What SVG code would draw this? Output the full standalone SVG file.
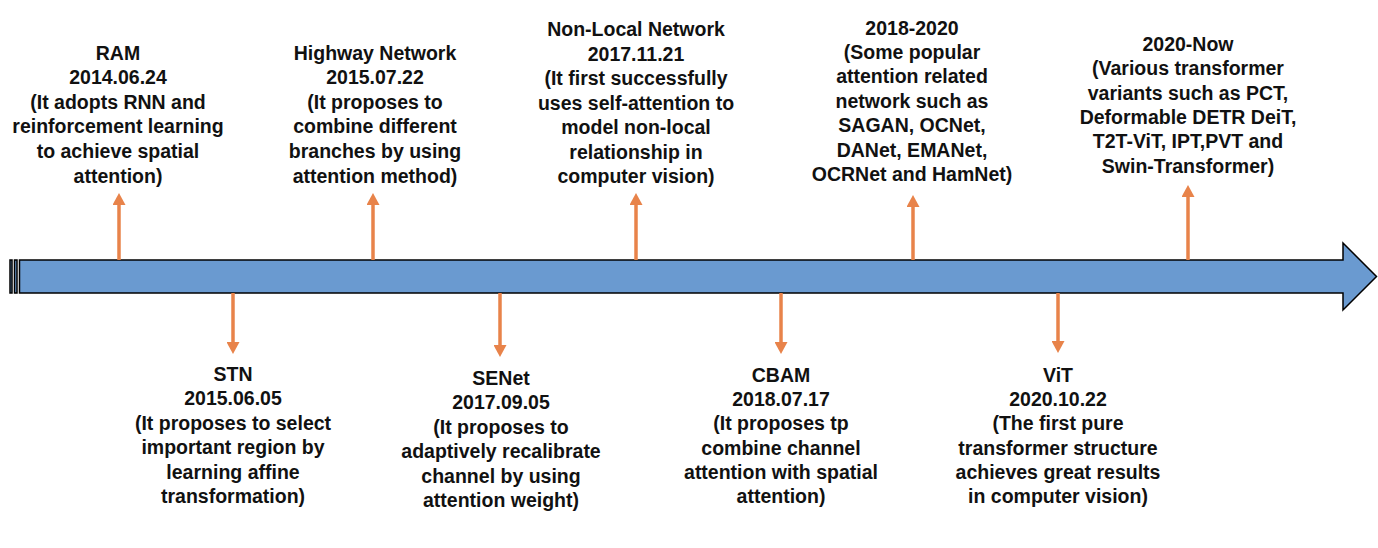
<svg xmlns="http://www.w3.org/2000/svg" width="1378" height="548" viewBox="0 0 1378 548">
<defs>
<style>
.t{font-family:"Liberation Sans",Arial,sans-serif;font-weight:bold;font-size:19.5px;fill:#111;text-anchor:middle}
.c{stroke:#E8834A;stroke-width:3.5;fill:none}
.bar{fill:#6A9AD0;stroke:#000;stroke-width:1.5}
</style>
<marker id="ah" viewBox="0 0 12 13" refX="0" refY="6.5" markerWidth="12" markerHeight="13" markerUnits="userSpaceOnUse" orient="auto">
<path d="M0,0 L12,6.5 L0,13 Z" fill="#E8834A"/>
</marker>
</defs>
<rect width="1378" height="548" fill="#fff"/>
<g id="timeline">
<rect class="bar" x="10" y="260" width="2" height="33"/>
<rect class="bar" x="14.5" y="260" width="2.5" height="33"/>
<path class="bar" d="M19.5,260 L1343,260 L1343,243 L1376.5,276.5 L1343,310 L1343,293 L19.5,293 Z"/>
</g>
<g id="connectors">
<path class="c" d="M119,260 V205" marker-end="url(#ah)"/>
<path class="c" d="M373,260 V205" marker-end="url(#ah)"/>
<path class="c" d="M636,260 V205" marker-end="url(#ah)"/>
<path class="c" d="M913,260 V207" marker-end="url(#ah)"/>
<path class="c" d="M1188,260 V197" marker-end="url(#ah)"/>
<path class="c" d="M233,293 V342" marker-end="url(#ah)"/>
<path class="c" d="M500,293 V345" marker-end="url(#ah)"/>
<path class="c" d="M781,293 V342" marker-end="url(#ah)"/>
<path class="c" d="M1058,293 V341" marker-end="url(#ah)"/>
</g>
<g id="ram">
<text class="t" x="118" y="59.5"><tspan x="118">RAM</tspan><tspan x="118" dy="24.6">2014.06.24</tspan><tspan x="118" dy="24.6">(It adopts RNN and</tspan><tspan x="118" dy="24.6">reinforcement learning</tspan><tspan x="118" dy="24.6">to achieve spatial</tspan><tspan x="118" dy="24.6">attention)</tspan></text>
</g>
<g id="highway">
<text class="t" x="375" y="59.5"><tspan x="375">Highway Network</tspan><tspan x="375" dy="24.6">2015.07.22</tspan><tspan x="375" dy="24.6">(It proposes to</tspan><tspan x="375" dy="24.6">combine different</tspan><tspan x="375" dy="24.6">branches by using</tspan><tspan x="375" dy="24.6">attention method)</tspan></text>
</g>
<g id="nonlocal">
<text class="t" x="636" y="36"><tspan x="636">Non-Local Network</tspan><tspan x="636" dy="24.5">2017.11.21</tspan><tspan x="636" dy="24.5">(It first successfully</tspan><tspan x="636" dy="24.5">uses self-attention to</tspan><tspan x="636" dy="24.5">model non-local</tspan><tspan x="636" dy="24.5">relationship in</tspan><tspan x="636" dy="24.5">computer vision)</tspan></text>
</g>
<g id="y2018">
<text class="t" x="912" y="34.5"><tspan x="912">2018-2020</tspan><tspan x="912" dy="24.4">(Some popular</tspan><tspan x="912" dy="24.4">attention related</tspan><tspan x="912" dy="24.4">network such as</tspan><tspan x="912" dy="24.4">SAGAN, OCNet,</tspan><tspan x="912" dy="24.4">DANet, EMANet,</tspan><tspan x="912" dy="24.4">OCRNet and HamNet)</tspan></text>
</g>
<g id="y2020">
<text class="t" x="1188" y="51"><tspan x="1188">2020-Now</tspan><tspan x="1188" dy="24.3">(Various transformer</tspan><tspan x="1188" dy="24.3">variants such as PCT,</tspan><tspan x="1188" dy="24.3">Deformable DETR DeiT,</tspan><tspan x="1188" dy="24.3">T2T-ViT, IPT,PVT and</tspan><tspan x="1188" dy="24.3">Swin-Transformer)</tspan></text>
</g>
<g id="stn">
<text class="t" x="233" y="381"><tspan x="233">STN</tspan><tspan x="233" dy="24.4">2015.06.05</tspan><tspan x="233" dy="24.4">(It proposes to select</tspan><tspan x="233" dy="24.4">important region by</tspan><tspan x="233" dy="24.4">learning affine</tspan><tspan x="233" dy="24.4">transformation)</tspan></text>
</g>
<g id="senet">
<text class="t" x="501" y="385"><tspan x="501">SENet</tspan><tspan x="501" dy="24.4">2017.09.05</tspan><tspan x="501" dy="24.4">(It proposes to</tspan><tspan x="501" dy="24.4">adaptively recalibrate</tspan><tspan x="501" dy="24.4">channel by using</tspan><tspan x="501" dy="24.4">attention weight)</tspan></text>
</g>
<g id="cbam">
<text class="t" x="781" y="382"><tspan x="781">CBAM</tspan><tspan x="781" dy="24.2">2018.07.17</tspan><tspan x="781" dy="24.2">(It proposes tp</tspan><tspan x="781" dy="24.2">combine channel</tspan><tspan x="781" dy="24.2">attention with spatial</tspan><tspan x="781" dy="24.2">attention)</tspan></text>
</g>
<g id="vit">
<text class="t" x="1058" y="382"><tspan x="1058">ViT</tspan><tspan x="1058" dy="24.2">2020.10.22</tspan><tspan x="1058" dy="24.2">(The first pure</tspan><tspan x="1058" dy="24.2">transformer structure</tspan><tspan x="1058" dy="24.2">achieves great results</tspan><tspan x="1058" dy="24.2">in computer vision)</tspan></text>
</g>
</svg>
